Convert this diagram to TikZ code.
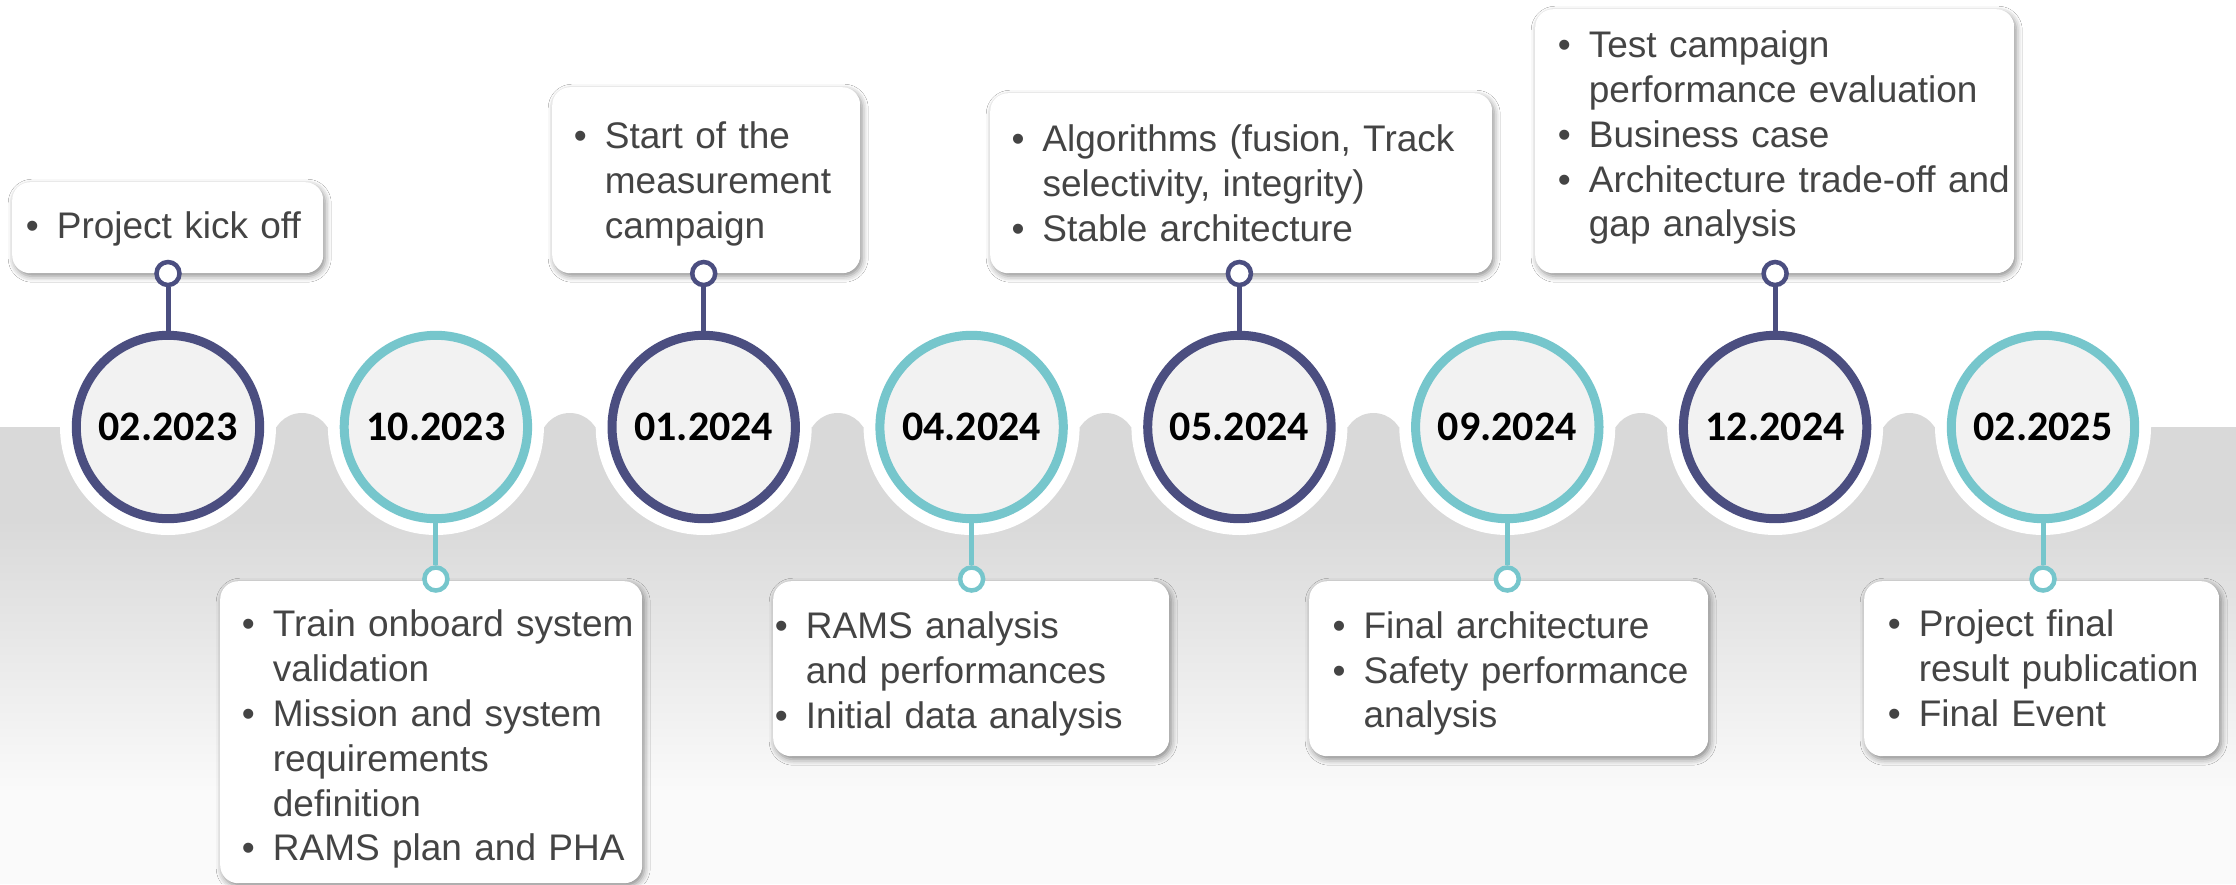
\documentclass[tikz,border=0pt]{standalone}
\usepackage{fontspec}
\setmainfont{Liberation Sans}
\newfontfamily\datefont{Carlito}
\usetikzlibrary{shadows.blur}
\definecolor{navy}{HTML}{4B4E80}
\definecolor{tealc}{HTML}{76C6CC}
\definecolor{band}{HTML}{D9D9D9}
\definecolor{bandlight}{HTML}{FAFAFA}
\definecolor{discfill}{HTML}{F2F2F2}
\definecolor{txtc}{HTML}{444444}
\newlength\bhang \setlength\bhang{31pt}
\newcommand\bl[1]{\noindent\hangindent=\bhang\hangafter=1\makebox[\bhang][l]{\strut\textbullet}#1\par}
\begin{document}
\begin{tikzpicture}[x=1pt,y=-1pt,
 card/.style={rectangle, rounded corners=18pt, fill=white, draw=none, anchor=north west, inner sep=0pt,
   blur shadow={shadow xshift=2pt, shadow yshift=-3pt, shadow blur radius=6pt, shadow opacity=45}},
 txtnode/.style={anchor=north west, inner sep=0pt, text width=600pt, align=left, text=txtc,
   font=\fontsize{37}{44.8}\selectfont},
 datec/.style={circle, minimum size=183.4pt, inner sep=0pt, line width=9pt, fill=discfill, draw=#1,
   font=\datefont\bfseries\fontsize{42}{50}\selectfont, text=black},
 halo/.style={circle, fill=white, minimum size=216pt, inner sep=0pt},
 dotc/.style={circle, minimum size=23pt, inner sep=0pt, line width=4.5pt, fill=white, draw=#1},
 conn/.style={line width=5pt, draw=#1},
]
\useasboundingbox (0,0) rectangle (2236,884);
\fill[white] (0,0) rectangle (2236,884);
% gray band
\fill[band] (0,427) rectangle (2236,520);
\shade[top color=band, bottom color=bandlight] (0,519.5) rectangle (2236,790);
\fill[bandlight] (0,789.5) rectangle (2236,884);
% bumps between halos
\foreach \bx in {301.9,569.8,837.7,1105.5,1373.4,1641.2,1909.1}
  \fill[band] (\bx,443) circle[radius=30pt];
% halos
\node[halo] (h1) at (168,427) {};
\node[halo] (h2) at (435.9,427) {};
\node[halo] (h3) at (703.7,427) {};
\node[halo] (h4) at (971.6,427) {};
\node[halo] (h5) at (1239.4,427) {};
\node[halo] (h6) at (1507.3,427) {};
\node[halo] (h7) at (1775.1,427) {};
\node[halo] (h8) at (2043,427) {};
% cards
\node[card, minimum width=311pt, minimum height=91pt] (b1) at (12,182) {};
\node[card, minimum width=422pt, minimum height=302pt] (b2) at (220,581) {};
\node[card, minimum width=308pt, minimum height=186pt] (b3) at (552,87) {};
\node[card, minimum width=396pt, minimum height=175pt] (b4) at (773,581) {};
\node[card, minimum width=502pt, minimum height=180pt] (b5) at (990,93) {};
\node[card, minimum width=399pt, minimum height=175pt] (b6) at (1309,581) {};
\node[card, minimum width=479pt, minimum height=264pt] (b7) at (1535,9) {};
\node[card, minimum width=355pt, minimum height=175pt] (b8) at (1864,581) {};
% date circles
\node[datec=navy]  (c1) at (168,427)    {02.2023};
\node[datec=tealc] (c2) at (435.9,427)  {10.2023};
\node[datec=navy]  (c3) at (703.7,427)  {01.2024};
\node[datec=tealc] (c4) at (971.6,427)  {04.2024};
\node[datec=navy]  (c5) at (1239.4,427) {05.2024};
\node[datec=tealc] (c6) at (1507.3,427) {09.2024};
\node[datec=navy]  (c7) at (1775.1,427) {12.2024};
\node[datec=tealc] (c8) at (2043,427)   {02.2025};
% dots
\node[dotc=navy]  (d1) at (168,273.5)    {};
\node[dotc=tealc] (d2) at (435.9,579)    {};
\node[dotc=navy]  (d3) at (703.7,273.5)  {};
\node[dotc=tealc] (d4) at (971.6,579)    {};
\node[dotc=navy]  (d5) at (1239.4,273.5) {};
\node[dotc=tealc] (d6) at (1507.3,579)   {};
\node[dotc=navy]  (d7) at (1775.1,273.5) {};
\node[dotc=tealc] (d8) at (2043,579)     {};
% connectors
\draw[conn=navy]  (c1) -- (d1);
\draw[conn=tealc] (c2) -- (d2);
\draw[conn=navy]  (c3) -- (d3);
\draw[conn=tealc] (c4) -- (d4);
\draw[conn=navy]  (c5) -- (d5);
\draw[conn=tealc] (c6) -- (d6);
\draw[conn=navy]  (c7) -- (d7);
\draw[conn=tealc] (c8) -- (d8);
% texts
\node[txtnode] (t1) at (25.7,206.7) {\bl{Project kick off}};
\node[txtnode] (t2) at (241.7,605.4) {\bl{Train onboard system\newline validation}\bl{Mission and system\newline requirements\newline definition}\bl{RAMS plan and PHA}};
\node[txtnode] (t3) at (573.7,117) {\bl{Start of the\newline measurement\newline campaign}};
\node[txtnode] (t4) at (774.7,607) {\bl{RAMS analysis\newline and performances}\bl{Initial data analysis}};
\node[txtnode] (t5) at (1011.3,120.4) {\bl{Algorithms (fusion, Track\newline selectivity, integrity)}\bl{Stable architecture}};
\node[txtnode] (t6) at (1332.4,606.7) {\bl{Final architecture}\bl{Safety performance\newline analysis}};
\node[txtnode] (t7) at (1557.7,26.2) {\bl{Test campaign\newline performance evaluation}\bl{Business case}\bl{Architecture trade-off and\newline gap analysis}};
\node[txtnode] (t8) at (1887.7,605.4) {\bl{Project final\newline result publication}\bl{Final Event}};
\end{tikzpicture}
\end{document}
